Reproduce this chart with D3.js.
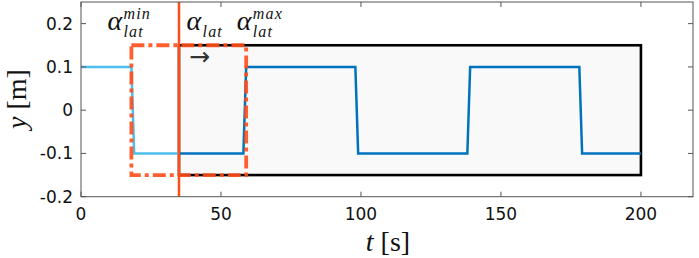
<!DOCTYPE html>
<html><head><meta charset="utf-8">
<script src="https://cdn.jsdelivr.net/npm/d3@7"></script>
<style>body{margin:0;background:#fff}svg{display:block}</style>
</head><body>
<svg id="c" width="699" height="258"></svg>
<script>
// data
const histT = [0, 18, 19, 35];
const histY = [0.1, 0.1, -0.1, -0.1];
const futT = [35, 58, 59, 98, 99, 138, 139, 178, 179, 200];
const futY = [-0.1, -0.1, 0.1, 0.1, -0.1, -0.1, 0.1, 0.1, -0.1, -0.1];
const xTicks = [0, 50, 100, 150, 200];
const yTicks = [-0.2, -0.1, 0, 0.1, 0.2];
const yTickLabels = ["-0.2", "-0.1", "0", "0.1", "0.2"];
const windowBox = {t0: 35, t1: 200, y0: -0.15, y1: 0.15};
const latBox = {t0: 18, t1: 59, y0: -0.15, y1: 0.15};
const alphaLat = 35;

const svg = d3.select("#c");
const L = 81, R = 693, T = 2, B = 196.7;
const x = d3.scaleLinear().domain([0, 218.6]).range([L, R]);
const y = d3.scaleLinear().domain([-0.2, 0.25]).range([B, T]);

// window rectangle
svg.append("rect")
  .attr("x", x(windowBox.t0)).attr("y", y(windowBox.y1))
  .attr("width", x(windowBox.t1) - x(windowBox.t0))
  .attr("height", y(windowBox.y0) - y(windowBox.y1))
  .attr("fill", "#f9f9f9").attr("stroke", "#000").attr("stroke-width", 2.6);

const line = d3.line().x(d => x(d[0])).y(d => y(d[1]));
svg.append("path").datum(histT.map((t, i) => [t, histY[i]]))
  .attr("d", line).attr("fill", "none").attr("stroke", "#4dbeee").attr("stroke-width", 2.5);
svg.append("path").datum(futT.map((t, i) => [t, futY[i]]))
  .attr("d", line).attr("fill", "none").attr("stroke", "#0072bd").attr("stroke-width", 2.5);

// orange dash-dot box
svg.append("rect")
  .attr("x", x(latBox.t0)).attr("y", y(latBox.y1))
  .attr("width", x(latBox.t1) - x(latBox.t0))
  .attr("height", y(latBox.y0) - y(latBox.y1))
  .attr("fill", "none").attr("stroke", "#ff4d1a").attr("stroke-width", 3.8)
  .attr("stroke-opacity", 0.9)
  .attr("stroke-dasharray", "13,4,4,4");

// vertical alpha line
svg.append("line")
  .attr("x1", x(alphaLat)).attr("x2", x(alphaLat))
  .attr("y1", y(0.25)).attr("y2", y(-0.2))
  .attr("stroke", "#ff4d1a").attr("stroke-width", 2.5);

// axes box
const axCol = "#555";
svg.append("rect").attr("x", L).attr("y", T).attr("width", R - L).attr("height", B - T)
  .attr("fill", "none").attr("stroke", axCol).attr("stroke-width", 1);
const tl = 5;
xTicks.forEach(t => {
  svg.append("line").attr("x1", x(t)).attr("x2", x(t)).attr("y1", B).attr("y2", B - tl).attr("stroke", axCol);
  svg.append("line").attr("x1", x(t)).attr("x2", x(t)).attr("y1", T).attr("y2", T + tl).attr("stroke", axCol);
  svg.append("text").attr("x", x(t)).attr("y", 219.5).attr("text-anchor", "middle")
    .attr("font-family", "DejaVu Sans").attr("font-size", 17).attr("fill", "#111").text(t);
});
yTicks.forEach((v, i) => {
  svg.append("line").attr("x1", L).attr("x2", L + tl).attr("y1", y(v)).attr("y2", y(v)).attr("stroke", axCol);
  svg.append("line").attr("x1", R).attr("x2", R - tl).attr("y1", y(v)).attr("y2", y(v)).attr("stroke", axCol);
  svg.append("text").attr("x", 73).attr("y", y(v) + 6).attr("text-anchor", "end")
    .attr("font-family", "DejaVu Sans").attr("font-size", 17).attr("fill", "#111").text(yTickLabels[i]);
});

// axis labels
const serif = "Liberation Serif";
const xl = svg.append("text").attr("x", 388).attr("y", 251).attr("text-anchor", "middle")
  .attr("font-family", serif).attr("font-size", 28).attr("fill", "#111");
xl.append("tspan").attr("font-style", "italic").text("t");
xl.append("tspan").text(" [s]");
const yl = svg.append("text").attr("transform", "translate(26,99) rotate(-90)").attr("text-anchor", "middle")
  .attr("font-family", serif).attr("font-size", 28).attr("fill", "#111");
yl.append("tspan").attr("font-style", "italic").text("y");
yl.append("tspan").text(" [m]");

// alpha annotations
function alpha(x0, sub, sup) {
  const g = svg.append("g").attr("font-family", serif).attr("font-style", "italic").attr("fill", "#111");
  g.append("text").attr("x", x0).attr("y", 30).attr("font-size", 28).text("α");
  g.append("text").attr("x", x0 + 16).attr("y", 37).attr("font-size", 16).attr("letter-spacing", 1.2).text(sub);
  if (sup) g.append("text").attr("x", x0 + 16).attr("y", 18.5).attr("font-size", 16).attr("letter-spacing", 1.2).text(sup);
}
alpha(x(latBox.t0) - 24, "lat", "min");
alpha(x(alphaLat) + 7.5, "lat", null);
alpha(x(latBox.t1) - 9.5, "lat", "max");
svg.append("text").attr("x", x(alphaLat) + 10).attr("y", 65).attr("font-family", "DejaVu Sans")
  .attr("font-size", 25).attr("fill", "#333").text("→");
</script>
</body></html>
